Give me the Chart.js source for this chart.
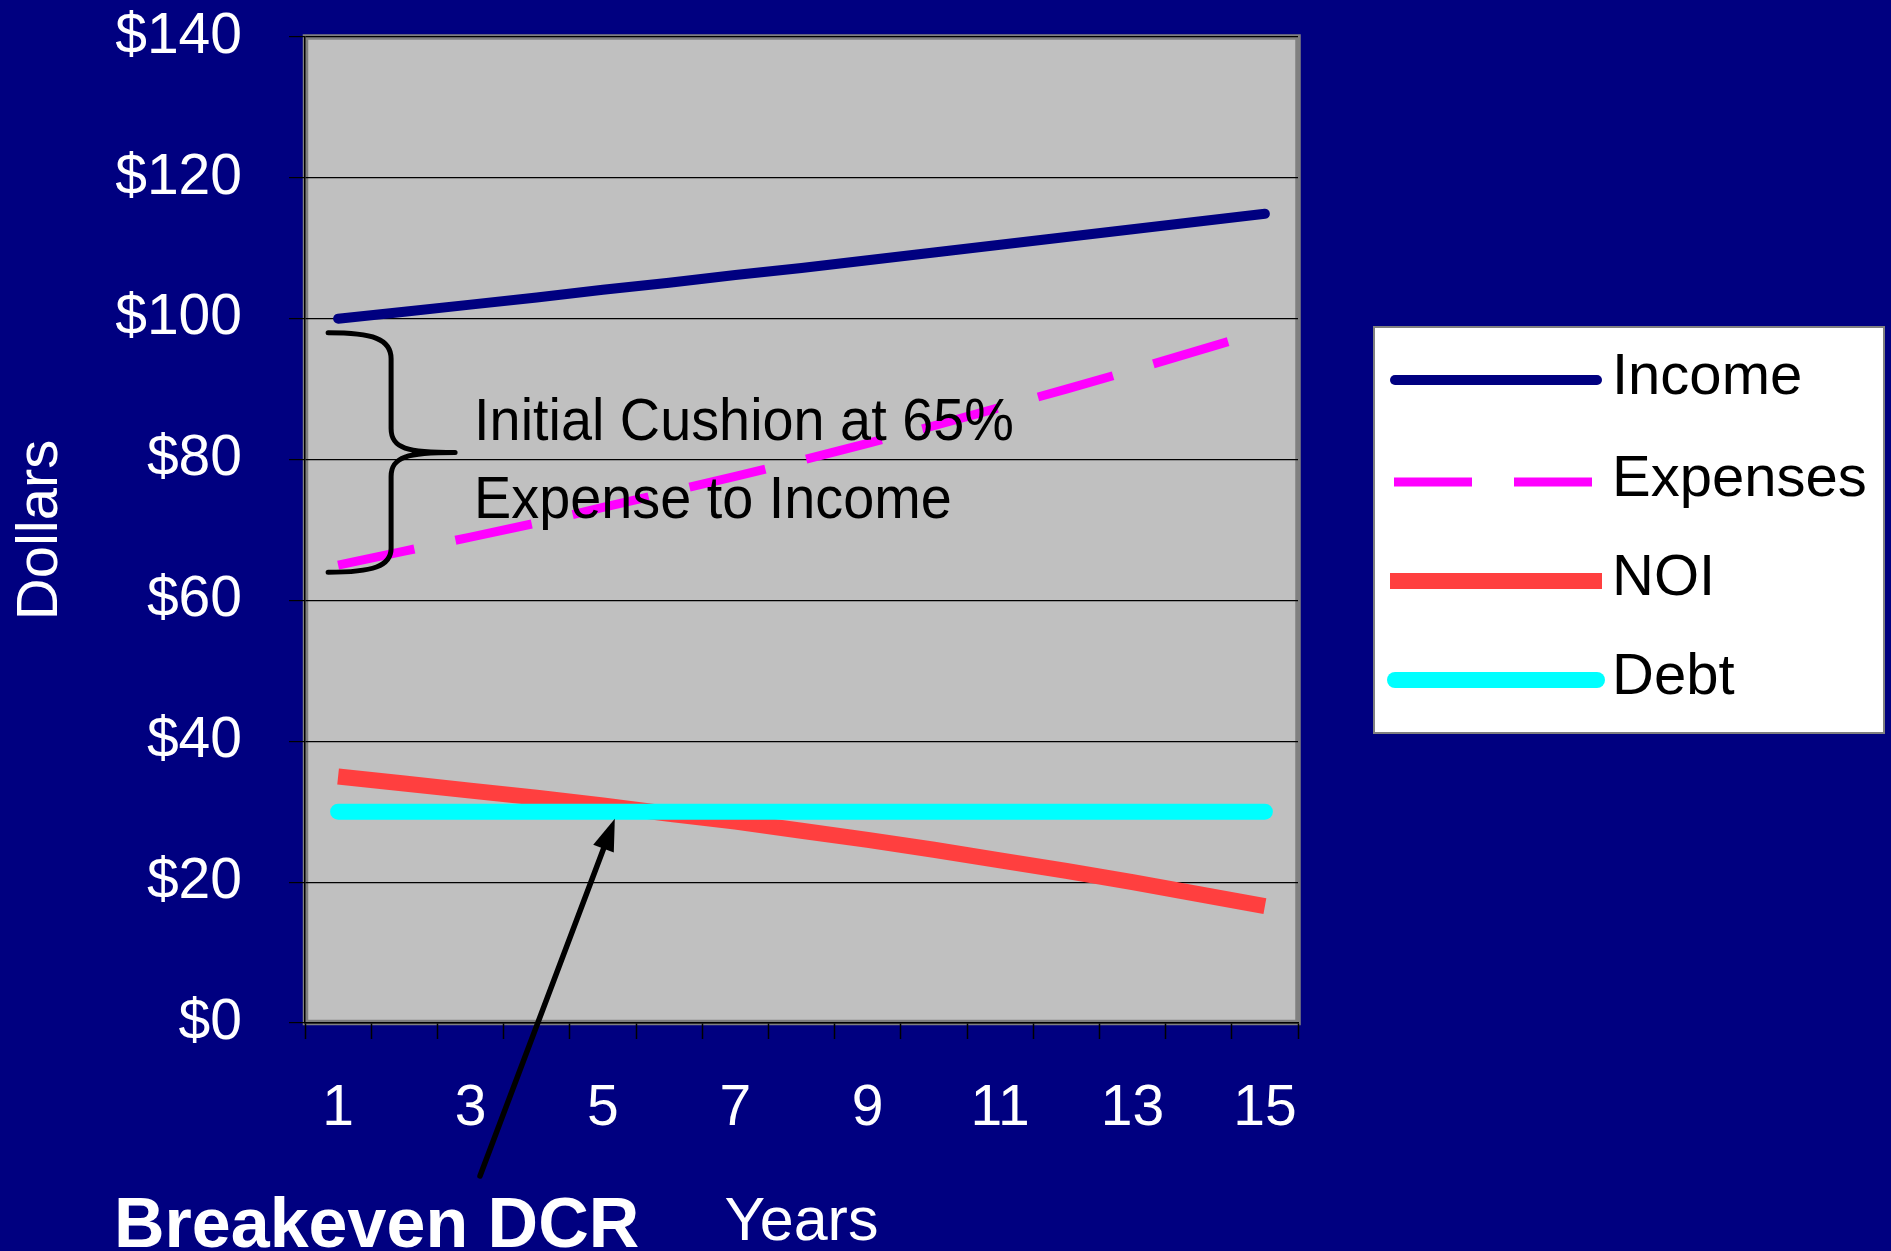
<!DOCTYPE html>
<html>
<head>
<meta charset="utf-8">
<title>Breakeven DCR</title>
<script src="https://cdn.jsdelivr.net/npm/chart.js@4/dist/chart.umd.min.js"></script>
<style>
  html, body { margin: 0; padding: 0; background: #000080; overflow: hidden; }
  #wrap { width: 1891px; height: 1251px; position: relative; }
  canvas { display: block; }
</style>
</head>
<body>
<div id="wrap"><canvas id="chart" width="1891" height="1251"></canvas></div>
<script>
// Projection years
const years = ['1', '2', '3', '4', '5', '6', '7', '8', '9', '10', '11', '12', '13', '14', '15'];

// Dollar series per year
const income   = [100.0, 101.0, 102.0, 103.0, 104.1, 105.1, 106.2, 107.2, 108.3, 109.4, 110.5, 111.6, 112.7, 113.8, 114.9];
const expenses = [65.0, 67.0, 69.0, 71.0, 73.2, 75.4, 77.6, 79.9, 82.3, 84.8, 87.4, 90.0, 92.7, 95.5, 98.3];
const noi      = [35.0, 34.0, 33.0, 32.0, 30.9, 29.7, 28.6, 27.3, 26.0, 24.6, 23.1, 21.6, 20.0, 18.3, 16.6];
const debt     = [30, 30, 30, 30, 30, 30, 30, 30, 30, 30, 30, 30, 30, 30, 30];

// Value axis
const yMin = 0;
const yMax = 140;
const yStep = 20;

const FONT = '"Liberation Sans", Arial, Helvetica, sans-serif';

// Page background, plot-area fill and its grey frame
const plotFrame = {
  id: 'plotFrame',
  beforeDraw(chart) {
    const { ctx, chartArea: a } = chart;
    ctx.save();
    ctx.fillStyle = '#000080';
    ctx.fillRect(0, 0, chart.width, chart.height);
    ctx.fillStyle = '#C0C0C0';
    ctx.fillRect(a.left, a.top, a.right - a.left, a.bottom - a.top);
    ctx.strokeStyle = '#808080';
    ctx.lineWidth = 5.5;
    ctx.strokeRect(a.left + 0.5, a.top, a.right - a.left - 0.5, a.bottom - a.top - 0.5);
    ctx.restore();
  }
};

// Brace, note text and the breakeven arrow
const notes = {
  id: 'notes',
  afterDatasetsDraw(chart) {
    const { ctx } = chart;
    const xs = chart.scales.x, ys = chart.scales.y;
    const x0 = xs.getPixelForValue(0);
    const yTop = ys.getPixelForValue(98);
    const yMid = ys.getPixelForValue(81);
    const yBot = ys.getPixelForValue(64);
    const bx = x0 + 53;     // vertical stroke of the brace
    const left = x0 - 10;   // arm ends
    const tip = x0 + 117;   // point of the brace

    ctx.save();
    ctx.strokeStyle = '#000';
    ctx.lineWidth = 5;
    ctx.lineCap = 'round';
    ctx.lineJoin = 'round';
    ctx.beginPath();
    ctx.moveTo(left, yTop);
    ctx.bezierCurveTo(left + 45, yTop, bx, yTop + 6, bx, yTop + 26);
    ctx.lineTo(bx, yMid - 24);
    ctx.bezierCurveTo(bx, yMid - 4, bx + 16, yMid, tip, yMid);
    ctx.moveTo(tip, yMid);
    ctx.bezierCurveTo(bx + 16, yMid, bx, yMid + 4, bx, yMid + 24);
    ctx.lineTo(bx, yBot - 24);
    ctx.bezierCurveTo(bx, yBot - 6, left + 45, yBot, left, yBot);
    ctx.stroke();

    // Note text
    ctx.fillStyle = '#000';
    ctx.font = '60px ' + FONT;
    ctx.textBaseline = 'alphabetic';
    ctx.textAlign = 'left';
    const tx = x0 + 136;
    ctx.save();
    ctx.translate(tx, 0);
    ctx.scale(0.93, 1);
    ctx.fillText('Initial Cushion at 65%', 0, 440);
    ctx.fillText('Expense to Income', 0, 518);
    ctx.restore();

    // Arrow to where NOI meets debt service
    const tipX = xs.getPixelForValue(4.18);
    const tipY = ys.getPixelForValue(debt[0]) + 7;
    const sx = 480, sy = 1176;
    const dx = tipX - sx, dy = tipY - sy;
    const len = Math.hypot(dx, dy);
    const ux = dx / len, uy = dy / len;
    const headLen = 32, headHalf = 11;
    const baseX = tipX - ux * headLen, baseY = tipY - uy * headLen;
    ctx.lineWidth = 5.5;
    ctx.beginPath();
    ctx.moveTo(sx, sy);
    ctx.lineTo(baseX + ux * 4, baseY + uy * 4);
    ctx.stroke();
    ctx.beginPath();
    ctx.moveTo(tipX, tipY);
    ctx.lineTo(baseX - uy * headHalf, baseY + ux * headHalf);
    ctx.lineTo(baseX + uy * headHalf, baseY - ux * headHalf);
    ctx.closePath();
    ctx.fill();

    ctx.fillStyle = '#fff';
    ctx.font = 'bold 70px ' + FONT;
    ctx.fillText('Breakeven DCR', 114, 1247);
    ctx.restore();
  }
};

// Boxed legend on the right
const boxLegend = {
  id: 'boxLegend',
  afterDraw(chart) {
    const { ctx } = chart;
    const box = { x: 1374, y: 327, w: 510, h: 406 };
    ctx.save();
    ctx.fillStyle = '#fff';
    ctx.fillRect(box.x, box.y, box.w, box.h);
    ctx.strokeStyle = '#808080';
    ctx.lineWidth = 2;
    ctx.strokeRect(box.x, box.y, box.w, box.h);
    const rows = [380, 482, 581, 680];
    chart.data.datasets.forEach((ds, i) => {
      const y = rows[i];
      ctx.strokeStyle = ds.borderColor;
      ctx.lineWidth = ds.borderWidth;
      ctx.lineCap = ds.borderCapStyle || 'butt';
      ctx.setLineDash(ds.borderDash || []);
      let x1 = 1390, x2 = 1602;
      if (ctx.lineCap === 'round') { x1 = 1395; x2 = 1597; }
      if (ds.borderDash && ds.borderDash.length) { x1 = 1394; x2 = 1592; }
      ctx.beginPath();
      ctx.moveTo(x1, y);
      ctx.lineTo(x2, y);
      ctx.stroke();
      ctx.setLineDash([]);
      ctx.fillStyle = '#000';
      ctx.font = '58px ' + FONT;
      ctx.textBaseline = 'middle';
      ctx.textAlign = 'left';
      ctx.fillText(ds.label, 1612, y - 2);
    });
    ctx.restore();
  }
};

const tickFont = { family: FONT, size: 57 };

new Chart(document.getElementById('chart'), {
  type: 'line',
  data: {
    labels: years,
    datasets: [
      { label: 'Income', data: income, borderColor: '#000080', borderWidth: 10,
        borderCapStyle: 'round', borderJoinStyle: 'round', order: 4 },
      { label: 'Expenses', data: expenses, borderColor: '#FF00FF', borderWidth: 9,
        borderDash: [78, 42], borderCapStyle: 'butt', order: 3 },
      { label: 'NOI', data: noi, borderColor: '#FF3F3F', borderWidth: 16,
        borderCapStyle: 'butt', order: 2 },
      { label: 'Debt', data: debt, borderColor: '#00FFFF', borderWidth: 16,
        borderCapStyle: 'round', borderJoinStyle: 'round', order: 1 }
    ]
  },
  options: {
    responsive: false,
    animation: false,
    devicePixelRatio: 1,
    layout: { padding: { left: 0, top: 37, right: 593, bottom: 0 } },
    elements: { point: { radius: 0, hoverRadius: 0 }, line: { tension: 0, fill: false } },
    plugins: { legend: { display: false }, tooltip: { enabled: false } },
    scales: {
      x: {
        type: 'category',
        offset: true,
        grid: { offset: true, drawOnChartArea: false, drawTicks: true, tickLength: 16,
                tickColor: '#000', tickWidth: 1.5 },
        border: { display: true, color: '#000', width: 1.5 },
        ticks: {
          autoSkip: false, maxRotation: 0, minRotation: 0, color: '#fff', font: tickFont, padding: 36,
          callback: (v, i) => (i % 2 === 0 ? years[i] : '')
        },
        title: { display: true, text: 'Years', color: '#fff',
                 font: { family: FONT, size: 61, lineHeight: 0.9 }, padding: { top: 0, bottom: 0 } },
        afterFit: (s) => { s.height = 228; s.paddingLeft = 0; s.paddingRight = 0; }
      },
      y: {
        min: yMin,
        max: yMax,
        ticks: { stepSize: yStep, color: '#fff', font: tickFont, padding: 47,
                 callback: (v) => '$' + v },
        grid: { color: '#000', lineWidth: 1.2, tickLength: 16, tickColor: '#000' },
        border: { display: true, color: '#000', width: 1.5 },
        title: { display: true, text: 'Dollars', color: '#fff',
                 font: { family: FONT, size: 58 }, padding: { top: 6, bottom: 0 } },
        afterFit: (s) => { s.width = 305; s.paddingTop = 0; s.paddingBottom = 0; }
      }
    }
  },
  plugins: [plotFrame, notes, boxLegend]
});
</script>
</body>
</html>
